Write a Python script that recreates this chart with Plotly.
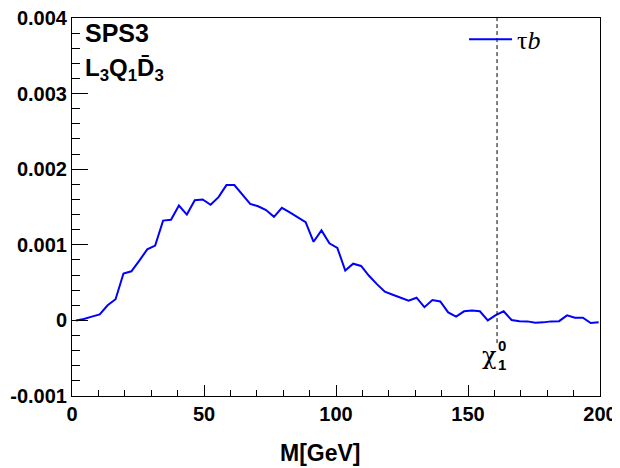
import plotly.graph_objects as go

# ---------------- data ----------------
mass_gev = [1.5, 4.5, 7.5, 10.5, 13.5, 16.5, 19.5, 22.5, 25.5, 28.5,
            31.5, 34.5, 37.5, 40.5, 43.5, 46.5, 49.5, 52.5, 55.5, 58.5,
            61.5, 64.5, 67.5, 70.5, 73.5, 76.5, 79.5, 82.5, 85.5, 88.5,
            91.5, 94.5, 97.5, 100.5, 103.5, 106.5, 109.5, 112.5, 115.5, 118.5,
            121.5, 124.5, 127.5, 130.5, 133.5, 136.5, 139.5, 142.5, 145.5, 148.5,
            151.5, 154.5, 157.5, 160.5, 163.5, 166.5, 169.5, 172.5, 175.5, 178.5,
            181.5, 184.5, 187.5, 190.5, 193.5, 196.5, 199.5]
tau_b = [0.0, 0.000018, 0.00005, 0.00008, 0.00020, 0.00028, 0.00062, 0.00065, 0.00079, 0.00094,
         0.00099, 0.00132, 0.00133, 0.00152, 0.00140, 0.00159, 0.00160, 0.00153, 0.00163, 0.00179,
         0.00179, 0.00167, 0.00154, 0.00151, 0.00146, 0.00137, 0.00149, 0.00143, 0.00136, 0.00130,
         0.00104, 0.00119, 0.00102, 0.00096, 0.00066, 0.00075, 0.00072, 0.00059, 0.00048, 0.00038,
         0.00034, 0.00030, 0.00026, 0.00030, 0.000175, 0.00027, 0.00025, 0.000105, 0.00005, 0.00012,
         0.00013, 0.00012, 0.0, 0.00007, 0.00012, 0.000005, -0.00001, -0.000013, -0.00003, -0.000026,
         -0.000013, -0.00001, 0.000066, 0.000035, 0.000035, -0.000035, -0.000026]

x_tickvals = [0, 50, 100, 150, 200]
x_ticktext = ["0", "50", "100", "150", "200"]
y_tickvals = [-0.001, 0.0, 0.001, 0.002, 0.003, 0.004]
y_ticktext = ["-0.001", "0", "0.001", "0.002", "0.003", "0.004"]

chi_mass = 161.0
chi_line_bottom = -0.00030

SANS = "Liberation Sans, Arial, sans-serif"
SERIF = "Liberation Serif, Times New Roman, serif"

fig = go.Figure()
fig.add_trace(go.Scatter(
    x=mass_gev, y=tau_b, mode="lines", name="\u03c4<i>b</i>",
    line=dict(color="#0000ff", width=2),
))

fig.add_shape(type="line", xref="x", yref="y",
              x0=chi_mass, x1=chi_mass, y0=chi_line_bottom, y1=0.004,
              line=dict(color="black", width=1, dash="4px,3px"))

axis_font = dict(family=SANS, size=20, color="black", weight="bold")

# the page body adds an 8px offset, so the figure is 8px smaller than the window
fig.update_layout(
    width=612, height=460,
    margin=dict(l=64, r=20, t=8, b=72),
    paper_bgcolor="white", plot_bgcolor="white",
    showlegend=True,
    legend=dict(x=0.7425, y=1.006, xanchor="left", yanchor="top",
                bgcolor="rgba(0,0,0,0)", borderwidth=0,
                font=dict(family=SERIF, size=26, color="black"),
                itemwidth=43),
    xaxis=dict(range=[0, 200], showgrid=False, zeroline=False, automargin=False,
               showline=True, linecolor="black", linewidth=1, mirror=True,
               ticks="inside", ticklen=11, tickcolor="black",
               tickmode="array", tickvals=x_tickvals, ticktext=x_ticktext,
               tickfont=axis_font, ticklabeloverflow="allow",
               minor=dict(ticks="inside", ticklen=6, tick0=0, dtick=10, tickcolor="black", showgrid=False)),
    yaxis=dict(range=[-0.001, 0.004], showgrid=False, zeroline=False, automargin=False,
               showline=True, linecolor="black", linewidth=1, mirror=True,
               ticks="inside", ticklen=16, tickcolor="black",
               tickmode="array", tickvals=y_tickvals, ticktext=y_ticktext,
               tickfont=axis_font, ticklabeloverflow="allow",
               minor=dict(ticks="inside", ticklen=8, tick0=0, dtick=0.0002, tickcolor="black", showgrid=False)),
)

# x-axis title (placed as in the reference, left of centre)
fig.add_annotation(xref="paper", yref="paper", x=0.4697, y=-0.15, xanchor="center", yanchor="middle",
                   text="M[GeV]", showarrow=False,
                   font=dict(family=SANS, size=23, color="black", weight="bold"))

fig.add_annotation(xref="paper", yref="paper", x=0.020, y=0.961, xanchor="left", yanchor="middle",
                   text="SPS3", showarrow=False,
                   font=dict(family=SANS, size=25, color="black", weight="bold"))
fig.add_annotation(xref="paper", yref="paper", x=0.020, y=0.864, xanchor="left", yanchor="middle",
                   text="L<sub>3</sub>Q<sub>1</sub>D\u0304<sub>3</sub>", showarrow=False,
                   font=dict(family=SANS, size=24, color="black", weight="bold"))
# chi_1^0 label
fig.add_annotation(xref="x", yref="y", x=chi_mass, y=-0.00047, xanchor="right", yanchor="middle",
                   text="\u03c7", showarrow=False, xshift=2,
                   font=dict(family="DejaVu Serif, serif", size=24, color="black"))
fig.add_annotation(xref="x", yref="y", x=chi_mass, y=-0.00033, xanchor="left", yanchor="middle",
                   text="0", showarrow=False, xshift=-1,
                   font=dict(family=SANS, size=15, color="black", weight="bold"))
fig.add_annotation(xref="x", yref="y", x=chi_mass, y=-0.00058, xanchor="left", yanchor="middle",
                   text="1", showarrow=False, xshift=-1,
                   font=dict(family=SANS, size=15, color="black", weight="bold"))

fig.write_html("out.html")
